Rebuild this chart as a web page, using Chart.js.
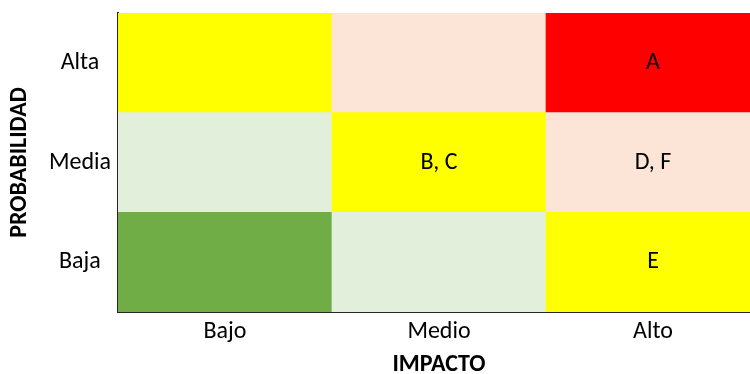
<!DOCTYPE html>
<html>
<head>
<meta charset="utf-8">
<script src="https://cdn.jsdelivr.net/npm/chart.js@4.4.1/dist/chart.umd.min.js"></script>
<style>
  html, body { margin: 0; padding: 0; background: #ffffff; overflow: hidden; }
  #wrap { position: relative; width: 770px; height: 374px; }
</style>
</head>
<body>
<div id="wrap"><canvas id="matrix"></canvas></div>
<script>
// Impact (columns) and probability (rows, bottom to top)
const impactLabels = ['Bajo', 'Medio', 'Alto'];
const probabilityLabels = ['Baja', 'Media', 'Alta'];
const probabilityTickPos = [0.5, 1.5, 2.5];

// Each row is one unit tall; one stacked bar per impact column
const rowHeight = [1, 1, 1];

// Cell colours per row (Baja, Media, Alta), ordered Bajo -> Alto
const colorsBaja  = ['#70AD47', '#E2EFDA', '#FFFF00'];
const colorsMedia = ['#E2EFDA', '#FFFF00', '#FCE4D6'];
const colorsAlta  = ['#FFFF00', '#FCE4D6', '#FF0000'];

// Risks placed in each cell
const risksBaja  = ['', '', 'E'];
const risksMedia = ['', 'B, C', 'D, F'];
const risksAlta  = ['', '', 'A'];

const FONT = "Carlito, Calibri, Lato, 'Open Sans', sans-serif";

const rows = [
  { name: probabilityLabels[0], colors: colorsBaja,  risks: risksBaja },
  { name: probabilityLabels[1], colors: colorsMedia, risks: risksMedia },
  { name: probabilityLabels[2], colors: colorsAlta,  risks: risksAlta }
];

const cellText = {
  id: 'cellText',
  afterDatasetsDraw(chart) {
    const ctx = chart.ctx;
    ctx.save();
    ctx.font = '24px ' + FONT;
    ctx.fillStyle = '#000000';
    ctx.textAlign = 'center';
    ctx.textBaseline = 'middle';
    chart.data.datasets.forEach((ds, i) => {
      const meta = chart.getDatasetMeta(i);
      meta.data.forEach((bar, j) => {
        const t = ds.risks[j];
        if (!t) return;
        ctx.fillText(t, bar.x, (bar.y + bar.base) / 2);
      });
    });
    ctx.restore();
  }
};

function noEdgePadding(scale) {
  scale.paddingTop = 0;
  scale.paddingBottom = 0;
  scale.paddingLeft = 0;
  scale.paddingRight = 0;
}

new Chart(document.getElementById('matrix'), {
  type: 'bar',
  data: {
    labels: impactLabels,
    datasets: rows.map(r => ({
      label: r.name,
      data: rowHeight,
      backgroundColor: r.colors,
      borderWidth: 0,
      barPercentage: 1,
      categoryPercentage: 1,
      risks: r.risks
    }))
  },
  options: {
    responsive: true,
    maintainAspectRatio: false,
    animation: false,
    layout: { padding: { top: 13, right: 10, left: 0, bottom: 0 } },
    plugins: { legend: { display: false }, tooltip: { enabled: false } },
    scales: {
      x: {
        stacked: true,
        grid: { display: false, drawTicks: false },
        border: { display: true, color: '#262626', width: 2 },
        ticks: { color: '#000000', font: { family: FONT, size: 24 }, padding: 6 },
        title: {
          display: true, text: 'IMPACTO', color: '#000000',
          font: { family: FONT, size: 24, weight: 'bold', lineHeight: 0.84 },
          padding: { top: 0, bottom: -1 }
        },
        afterFit(scale) { scale.height = 62; noEdgePadding(scale); }
      },
      y: {
        stacked: true,
        min: 0,
        max: 3,
        grid: { display: false, drawTicks: false },
        border: { display: true, color: '#262626', width: 2 },
        afterBuildTicks(scale) {
          scale.ticks = probabilityTickPos.map(v => ({ value: v }));
        },
        ticks: {
          color: '#000000',
          font: { family: FONT, size: 24 },
          padding: 7,
          crossAlign: 'center',
          autoSkip: false,
          callback: (v, i) => probabilityLabels[i]
        },
        title: {
          display: true, text: 'PROBABILIDAD', color: '#000000',
          font: { family: FONT, size: 24, weight: 'bold', lineHeight: 0.84 },
          padding: { top: 10, bottom: 0 }
        },
        afterFit(scale) { scale.width = 118; noEdgePadding(scale); }
      }
    }
  },
  plugins: [cellText]
});
</script>
</body>
</html>
